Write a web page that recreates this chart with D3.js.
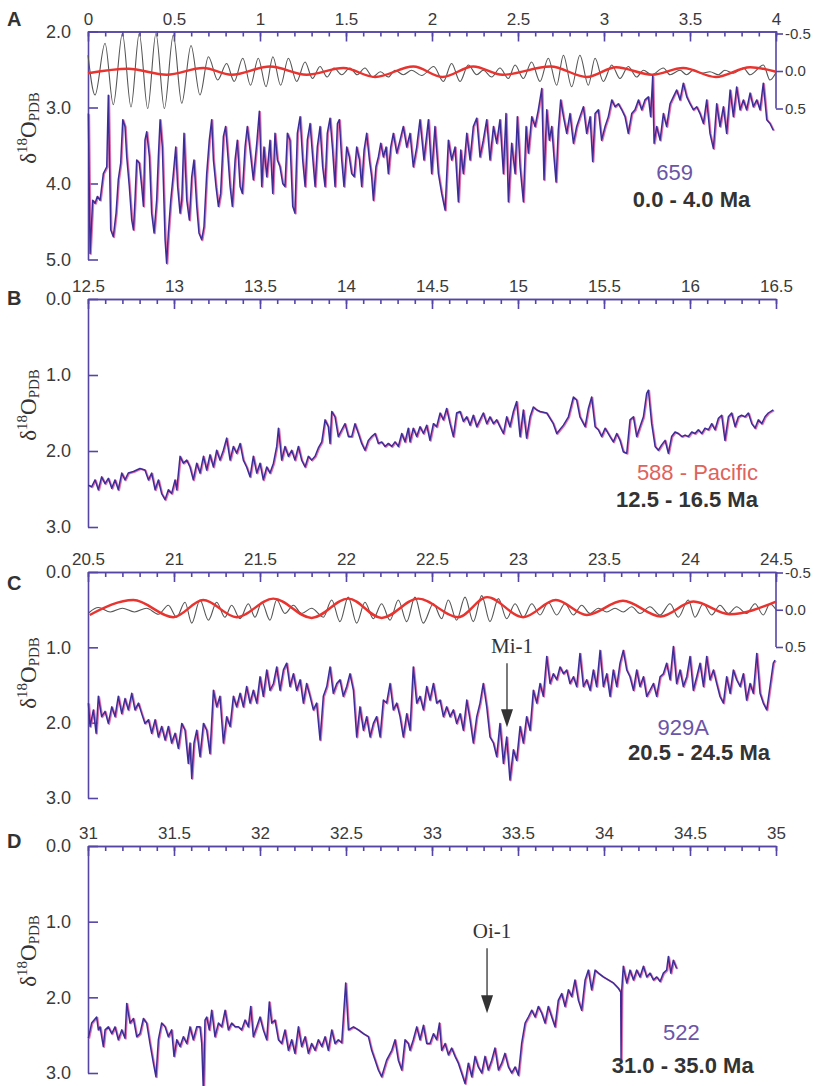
<!DOCTYPE html>
<html>
<head>
<meta charset="utf-8">
<script src="https://cdn.jsdelivr.net/npm/d3@7"></script>
<style>
  body { margin: 0; background: #fff; }
  svg { display: block; }
  .axis path, .axis line { stroke: #5546a6; stroke-width: 1.6; }
  .axis text { fill: #3a3a3a; font-family: "Liberation Sans", Arial, sans-serif; }
</style>
</head>
<body>
<div id="chart"></div>
<script>
// ---- data: [age (Ma), d18O (permil PDB)] ----
const site659 = [
  [0.002,3.08],[0.012,4.92],[0.027,4.22],[0.041,4.26],[0.054,4.17],[0.070,4.22],[0.089,3.87],[0.109,3.78],[0.118,2.84],[0.132,4.61],
  [0.147,4.70],[0.163,4.39],[0.176,3.95],[0.190,3.73],[0.202,3.16],[0.215,3.25],[0.225,3.65],[0.240,4.04],[0.254,4.48],[0.264,4.61],
  [0.273,4.22],[0.283,3.69],[0.298,3.73],[0.312,4.04],[0.322,4.30],[0.331,3.43],[0.341,3.32],[0.357,3.65],[0.370,4.39],[0.384,4.65],
  [0.399,4.22],[0.409,3.65],[0.419,3.16],[0.432,3.52],[0.448,4.74],[0.457,5.05],[0.467,4.65],[0.481,4.22],[0.496,3.87],[0.510,3.52],
  [0.521,4.04],[0.535,4.39],[0.545,4.22],[0.558,3.34],[0.574,4.22],[0.589,4.48],[0.603,3.91],[0.616,3.69],[0.632,4.30],[0.645,4.65],
  [0.661,4.74],[0.674,4.57],[0.690,3.87],[0.705,3.43],[0.719,3.16],[0.729,3.69],[0.744,4.04],[0.758,4.30],[0.771,4.13],[0.787,3.38],
  [0.800,3.25],[0.812,3.60],[0.826,4.04],[0.839,4.30],[0.855,3.69],[0.868,3.43],[0.884,4.04],[0.897,4.13],[0.913,3.52],[0.926,3.25],
  [0.942,3.56],[0.961,3.95],[0.981,3.47],[0.996,3.05],[1.010,4.04],[1.023,3.52],[1.039,3.91],[1.058,3.43],[1.074,4.13],[1.087,3.34],
  [1.101,3.69],[1.116,3.78],[1.132,4.00],[1.145,4.04],[1.159,3.34],[1.174,3.43],[1.190,4.30],[1.203,4.39],[1.217,3.34],[1.233,3.12],
  [1.248,3.69],[1.262,4.04],[1.275,3.43],[1.291,3.21],[1.306,3.65],[1.320,4.04],[1.333,3.52],[1.349,3.25],[1.364,3.78],[1.378,4.04],
  [1.391,3.34],[1.407,3.14],[1.422,3.56],[1.436,4.04],[1.450,3.21],[1.461,3.16],[1.475,3.69],[1.488,4.04],[1.504,3.52],[1.519,3.65],
  [1.533,3.87],[1.547,3.91],[1.562,3.52],[1.578,3.69],[1.591,4.04],[1.605,3.56],[1.620,3.34],[1.636,3.69],[1.649,3.91],[1.659,4.22],
  [1.674,3.78],[1.688,3.65],[1.702,3.47],[1.717,3.65],[1.733,3.52],[1.746,3.87],[1.760,3.52],[1.775,3.34],[1.795,3.60],[1.814,3.43],
  [1.833,3.25],[1.853,3.52],[1.872,3.34],[1.891,3.78],[1.911,3.52],[1.930,3.16],[1.953,3.69],[1.979,3.16],[1.998,3.87],[2.017,3.25],
  [2.037,3.87],[2.056,4.13],[2.076,4.35],[2.095,3.43],[2.114,3.69],[2.134,3.52],[2.153,4.24],[2.167,3.56],[2.182,3.87],[2.202,3.34],
  [2.221,3.69],[2.240,3.25],[2.260,3.14],[2.279,3.65],[2.298,3.43],[2.318,3.16],[2.337,3.69],[2.357,3.25],[2.376,3.47],[2.395,3.16],
  [2.415,3.87],[2.430,3.08],[2.444,4.24],[2.463,3.47],[2.483,3.87],[2.496,3.12],[2.512,3.78],[2.531,4.24],[2.547,3.25],[2.560,3.60],
  [2.580,3.12],[2.599,3.25],[2.618,3.03],[2.638,2.75],[2.651,3.95],[2.667,3.03],[2.682,3.43],[2.696,3.25],[2.709,3.65],[2.721,3.98],
  [2.734,3.30],[2.748,2.90],[2.764,3.12],[2.783,3.34],[2.802,3.08],[2.822,3.47],[2.841,3.25],[2.860,3.12],[2.880,2.99],[2.899,3.34],
  [2.919,3.12],[2.934,3.71],[2.948,3.08],[2.967,3.03],[2.986,3.43],[3.006,3.25],[3.025,3.12],[3.045,2.90],[3.064,2.99],[3.083,2.95],
  [3.103,3.03],[3.122,3.12],[3.141,3.34],[3.161,3.08],[3.180,3.03],[3.200,2.90],[3.219,3.03],[3.238,2.90],[3.258,2.86],[3.271,3.12],
  [3.283,2.59],[3.291,3.47],[3.306,3.25],[3.326,3.43],[3.345,3.08],[3.364,3.25],[3.384,2.95],[3.403,2.86],[3.422,2.77],[3.442,2.90],
  [3.461,2.68],[3.481,2.86],[3.500,2.95],[3.519,3.03],[3.539,2.99],[3.558,3.08],[3.578,3.21],[3.597,2.90],[3.616,3.34],[3.636,3.54],
  [3.655,2.95],[3.674,3.25],[3.694,2.99],[3.713,3.34],[3.733,2.77],[3.752,3.12],[3.771,2.73],[3.791,3.03],[3.810,2.90],[3.829,3.03],
  [3.849,2.81],[3.868,2.99],[3.888,2.90],[3.907,3.03],[3.926,2.68],[3.946,3.16],[3.965,3.21],[3.984,3.30]
];

const site588 = [
  [12.502,2.45],[12.521,2.47],[12.541,2.38],[12.560,2.51],[12.579,2.34],[12.599,2.43],[12.618,2.36],[12.638,2.49],[12.657,2.38],[12.676,2.51],
  [12.696,2.29],[12.715,2.38],[12.734,2.29],[12.764,2.27],[12.802,2.23],[12.831,2.25],[12.851,2.38],[12.870,2.29],[12.890,2.51],[12.909,2.38],
  [12.928,2.56],[12.948,2.64],[12.967,2.51],[12.986,2.56],[13.006,2.38],[13.016,2.51],[13.035,2.07],[13.054,2.16],[13.074,2.12],[13.093,2.21],
  [13.112,2.38],[13.132,2.16],[13.151,2.29],[13.171,2.07],[13.190,2.25],[13.209,2.05],[13.229,2.21],[13.248,1.99],[13.267,2.12],[13.287,1.99],
  [13.306,1.83],[13.326,2.12],[13.345,1.94],[13.364,2.03],[13.384,1.90],[13.403,2.12],[13.422,2.21],[13.442,2.34],[13.461,2.07],[13.481,2.29],
  [13.500,2.16],[13.519,2.38],[13.539,2.21],[13.558,2.29],[13.578,2.16],[13.597,1.94],[13.607,1.70],[13.626,2.12],[13.645,1.94],[13.665,2.07],
  [13.684,1.99],[13.703,2.12],[13.723,1.94],[13.742,2.12],[13.762,2.21],[13.781,2.07],[13.800,2.12],[13.820,2.07],[13.839,1.96],[13.859,1.88],
  [13.878,1.59],[13.897,1.68],[13.907,1.90],[13.917,1.48],[13.936,1.55],[13.955,1.81],[13.975,1.72],[13.994,1.64],[14.014,1.81],[14.033,1.81],
  [14.052,1.64],[14.072,1.77],[14.091,1.90],[14.110,1.99],[14.130,1.86],[14.149,1.81],[14.169,1.77],[14.188,1.90],[14.207,1.88],[14.227,1.94],
  [14.246,1.90],[14.266,1.94],[14.285,1.88],[14.304,1.94],[14.324,1.77],[14.343,1.88],[14.362,1.70],[14.372,1.88],[14.391,1.70],[14.411,1.81],
  [14.430,1.68],[14.450,1.77],[14.469,1.66],[14.488,1.86],[14.508,1.64],[14.527,1.68],[14.547,1.50],[14.566,1.59],[14.585,1.44],[14.605,1.64],
  [14.624,1.81],[14.643,1.50],[14.663,1.48],[14.682,1.61],[14.702,1.55],[14.721,1.66],[14.740,1.53],[14.760,1.68],[14.779,1.59],[14.798,1.50],
  [14.818,1.64],[14.837,1.55],[14.857,1.64],[14.876,1.59],[14.895,1.68],[14.915,1.77],[14.934,1.55],[14.953,1.68],[14.973,1.48],[14.992,1.35],
  [15.012,1.81],[15.031,1.46],[15.050,1.83],[15.070,1.55],[15.089,1.42],[15.109,1.46],[15.128,1.48],[15.167,1.50],[15.205,1.64],[15.225,1.77],
  [15.264,1.66],[15.293,1.55],[15.322,1.29],[15.341,1.33],[15.360,1.55],[15.390,1.68],[15.409,1.44],[15.428,1.29],[15.448,1.68],[15.467,1.72],
  [15.486,1.81],[15.506,1.70],[15.535,1.81],[15.554,1.88],[15.574,1.77],[15.593,1.86],[15.612,2.01],[15.632,2.03],[15.651,1.59],[15.671,1.55],
  [15.690,1.81],[15.709,1.68],[15.729,1.55],[15.748,1.24],[15.758,1.20],[15.777,1.64],[15.797,1.94],[15.816,1.99],[15.835,1.92],[15.855,1.86],
  [15.874,2.03],[15.893,1.81],[15.913,1.75],[15.932,1.77],[15.952,1.81],[15.971,1.79],[15.990,1.81],[16.010,1.75],[16.029,1.77],[16.048,1.72],
  [16.068,1.77],[16.087,1.70],[16.107,1.72],[16.126,1.64],[16.145,1.72],[16.165,1.57],[16.184,1.53],[16.203,1.86],[16.223,1.55],[16.242,1.50],
  [16.262,1.68],[16.281,1.55],[16.300,1.53],[16.320,1.55],[16.339,1.50],[16.359,1.64],[16.378,1.70],[16.397,1.59],[16.417,1.64],[16.436,1.55],
  [16.455,1.50],[16.484,1.46]
];

const site929A = [
  [20.502,1.74],[20.512,2.05],[20.531,1.83],[20.547,2.14],[20.560,1.65],[20.579,1.92],[20.599,1.85],[20.618,2.01],[20.638,1.79],[20.657,1.92],
  [20.676,1.65],[20.696,1.88],[20.715,1.68],[20.734,1.83],[20.754,1.61],[20.773,1.83],[20.793,1.74],[20.812,1.88],[20.831,2.01],[20.851,1.96],
  [20.870,2.14],[20.890,1.96],[20.909,2.19],[20.928,2.05],[20.948,2.23],[20.967,2.05],[20.986,2.27],[21.006,2.14],[21.025,2.34],[21.045,2.01],
  [21.064,2.10],[21.083,2.54],[21.093,2.27],[21.103,2.74],[21.116,2.27],[21.132,2.10],[21.151,2.45],[21.171,2.01],[21.190,2.10],[21.209,2.41],
  [21.229,1.57],[21.248,1.79],[21.267,1.65],[21.287,2.27],[21.306,1.92],[21.326,2.05],[21.345,1.65],[21.364,1.79],[21.384,1.61],[21.403,1.79],
  [21.422,1.52],[21.442,1.74],[21.461,1.57],[21.481,1.74],[21.500,1.39],[21.519,1.65],[21.539,1.30],[21.558,1.57],[21.578,1.48],[21.597,1.26],
  [21.616,1.57],[21.636,1.30],[21.655,1.21],[21.674,1.52],[21.694,1.35],[21.713,1.57],[21.733,1.43],[21.752,1.74],[21.771,1.48],[21.791,1.65],
  [21.810,1.83],[21.829,1.74],[21.849,2.23],[21.868,1.65],[21.888,1.52],[21.907,1.26],[21.926,1.61],[21.946,1.48],[21.965,1.43],[21.984,1.65],
  [22.004,1.52],[22.023,1.35],[22.043,1.57],[22.062,2.19],[22.081,1.79],[22.101,2.10],[22.120,1.92],[22.140,2.19],[22.159,2.01],[22.178,1.92],
  [22.198,2.19],[22.217,1.70],[22.236,1.74],[22.256,1.48],[22.275,1.83],[22.295,1.74],[22.314,1.92],[22.333,2.19],[22.353,1.88],[22.372,2.10],
  [22.391,1.26],[22.411,1.74],[22.430,1.65],[22.450,1.83],[22.469,1.52],[22.488,1.70],[22.508,1.48],[22.527,1.74],[22.547,1.70],[22.566,1.92],
  [22.585,1.79],[22.605,1.92],[22.624,1.83],[22.643,2.01],[22.663,1.88],[22.682,2.10],[22.702,1.70],[22.721,1.96],[22.740,2.27],[22.760,1.92],
  [22.779,1.74],[22.798,1.48],[22.818,1.79],[22.837,2.19],[22.857,2.27],[22.876,2.45],[22.895,2.01],[22.915,2.54],[22.934,2.19],[22.953,2.76],
  [22.973,2.36],[22.992,2.50],[23.012,2.05],[23.031,2.27],[23.050,1.92],[23.070,2.10],[23.089,1.57],[23.109,1.74],[23.128,1.48],[23.147,1.65],
  [23.167,1.12],[23.186,1.48],[23.205,1.35],[23.225,1.43],[23.244,1.26],[23.264,1.35],[23.283,1.30],[23.302,1.48],[23.322,1.39],[23.341,1.52],
  [23.360,1.08],[23.380,1.52],[23.399,1.43],[23.419,1.57],[23.438,1.30],[23.457,1.52],[23.477,1.04],[23.496,1.52],[23.516,1.35],[23.535,1.65],
  [23.554,1.30],[23.574,1.52],[23.593,1.21],[23.612,1.04],[23.632,1.30],[23.651,1.39],[23.671,1.57],[23.690,1.30],[23.709,1.52],[23.729,1.39],
  [23.748,1.65],[23.767,1.57],[23.787,1.48],[23.806,1.65],[23.826,1.39],[23.845,1.35],[23.864,1.21],[23.884,1.43],[23.903,0.99],[23.922,1.48],
  [23.942,1.30],[23.961,1.52],[23.981,1.39],[24.000,1.12],[24.019,1.57],[24.039,1.39],[24.058,1.21],[24.078,1.52],[24.097,1.12],[24.116,1.43],
  [24.136,1.30],[24.155,1.48],[24.174,1.65],[24.194,1.74],[24.213,1.39],[24.233,1.61],[24.252,1.30],[24.271,1.43],[24.291,1.52],[24.310,1.35],
  [24.329,1.70],[24.349,1.48],[24.368,1.61],[24.388,1.08],[24.407,1.61],[24.426,1.74],[24.446,1.83],[24.465,1.52],[24.484,1.21],[24.494,1.17]
];

const site522 = [
  [31.002,2.54],[31.021,2.34],[31.050,2.26],[31.060,2.43],[31.070,2.39],[31.089,2.65],[31.099,2.43],[31.118,2.39],[31.138,2.48],[31.157,2.39],
  [31.176,2.56],[31.196,2.43],[31.215,2.54],[31.225,2.08],[31.244,2.34],[31.264,2.28],[31.283,2.52],[31.302,2.48],[31.322,2.28],[31.341,2.34],
  [31.360,2.61],[31.380,2.87],[31.395,3.05],[31.409,2.56],[31.428,2.34],[31.448,2.39],[31.467,2.52],[31.486,2.43],[31.500,2.78],[31.516,2.56],
  [31.535,2.65],[31.554,2.52],[31.574,2.61],[31.593,2.39],[31.612,2.56],[31.632,2.39],[31.651,2.39],[31.661,2.61],[31.671,3.27],[31.680,2.30],
  [31.690,2.26],[31.705,2.43],[31.719,2.17],[31.738,2.52],[31.758,2.34],[31.777,2.39],[31.797,2.17],[31.816,2.43],[31.835,2.34],[31.855,2.39],
  [31.874,2.39],[31.893,2.43],[31.913,2.30],[31.932,2.39],[31.946,2.12],[31.961,2.52],[31.981,2.39],[32.000,2.26],[32.019,2.43],[32.039,2.56],
  [32.054,2.06],[32.068,2.34],[32.087,2.30],[32.107,2.56],[32.126,2.61],[32.145,2.43],[32.165,2.70],[32.184,2.56],[32.203,2.74],[32.223,2.39],
  [32.242,2.65],[32.262,2.52],[32.281,2.74],[32.300,2.61],[32.320,2.70],[32.339,2.56],[32.359,2.65],[32.378,2.52],[32.397,2.70],[32.417,2.43],
  [32.436,2.61],[32.455,2.56],[32.475,2.60],[32.498,1.81],[32.514,2.43],[32.543,2.39],[32.572,2.43],[32.601,2.48],[32.630,2.52],[32.649,2.70],
  [32.669,2.83],[32.688,2.96],[32.707,3.05],[32.736,2.83],[32.766,2.70],[32.785,2.56],[32.804,2.83],[32.824,2.96],[32.843,2.56],[32.862,2.61],
  [32.872,2.70],[32.891,2.56],[32.911,2.39],[32.930,2.56],[32.950,2.37],[32.969,2.61],[32.988,2.61],[33.008,2.48],[33.027,2.56],[33.043,2.34],
  [33.056,2.70],[33.076,2.61],[33.095,2.76],[33.114,2.67],[33.134,2.78],[33.153,2.87],[33.172,3.00],[33.192,3.14],[33.211,2.87],[33.231,3.05],
  [33.250,2.78],[33.269,2.92],[33.289,3.00],[33.308,2.78],[33.327,2.96],[33.347,2.83],[33.366,2.67],[33.386,2.96],[33.405,2.87],[33.424,2.74],
  [33.444,2.92],[33.463,3.00],[33.483,2.92],[33.502,3.03],[33.521,2.61],[33.541,2.34],[33.560,2.26],[33.580,2.17],[33.599,2.26],[33.618,2.12],
  [33.638,2.21],[33.657,2.34],[33.676,2.12],[33.696,2.26],[33.715,2.39],[33.734,2.04],[33.754,1.95],[33.773,2.12],[33.793,1.90],[33.812,1.99],
  [33.831,1.77],[33.851,2.04],[33.870,2.17],[33.890,1.77],[33.909,1.64],[33.928,1.90],[33.948,1.64],[33.967,1.68],[33.996,1.73],[34.025,1.77],
  [34.054,1.81],[34.083,1.88],[34.097,1.93],[34.099,2.81],[34.103,1.90],[34.112,1.59],[34.132,1.81],[34.151,1.64],[34.171,1.77],[34.190,1.64],
  [34.209,1.73],[34.229,1.59],[34.248,1.73],[34.267,1.68],[34.287,1.77],[34.306,1.73],[34.326,1.79],[34.345,1.68],[34.364,1.64],[34.374,1.46],
  [34.388,1.68],[34.403,1.51],[34.422,1.62]
];

// band-pass filter outputs (right axis), read as successive peaks and troughs
const filt659Short = [
  [0.000,-0.21],[0.041,0.32],[0.099,-0.37],[0.147,0.45],[0.200,-0.50],[0.250,0.48],[0.298,-0.50],[0.347,0.50],[0.395,-0.50],[0.444,0.50],
  [0.496,-0.48],[0.545,0.43],[0.599,-0.34],[0.651,0.32],[0.700,-0.19],[0.754,0.12],[0.806,-0.10],[0.850,0.14],[0.900,-0.17],[0.945,0.19],
  [0.990,-0.17],[1.035,0.21],[1.075,-0.19],[1.120,0.19],[1.165,-0.17],[1.213,0.14],[1.262,-0.12],[1.305,0.10],[1.349,-0.06],[1.390,0.08],
  [1.430,-0.04],[1.475,0.05],[1.523,-0.04],[1.565,0.05],[1.610,-0.04],[1.655,0.08],[1.700,0.01],[1.746,0.08],[1.785,-0.01],[1.833,0.05],
  [1.882,-0.01],[1.940,0.06],[2.010,-0.06],[2.066,0.14],[2.114,-0.10],[2.163,0.14],[2.211,-0.08],[2.260,0.05],[2.298,-0.01],[2.347,0.08],
  [2.395,-0.04],[2.444,0.10],[2.483,-0.08],[2.531,0.10],[2.579,-0.12],[2.628,0.14],[2.676,-0.17],[2.725,0.19],[2.764,-0.21],[2.812,0.21],
  [2.860,-0.21],[2.909,0.19],[2.948,-0.17],[2.996,0.14],[3.045,-0.08],[3.093,0.10],[3.141,-0.06],[3.190,0.08],[3.229,-0.01],[3.277,0.05],
  [3.345,-0.04],[3.384,0.05],[3.442,-0.01],[3.480,0.05],[3.519,-0.01],[3.568,0.03],[3.616,0.01],[3.665,0.05],[3.703,-0.01],[3.752,0.03],
  [3.810,-0.04],[3.849,0.05],[3.927,-0.08],[3.965,0.12],[4.000,0.02]
];
const filt659Long = [
  [0.000,0.03],[0.234,-0.03],[0.457,0.05],[0.670,-0.04],[0.835,0.05],[1.058,-0.06],[1.271,0.05],[1.485,-0.04],[1.669,0.08],[1.892,-0.06],
  [2.060,0.08],[2.240,-0.06],[2.410,0.05],[2.690,-0.06],[2.900,0.08],[3.070,-0.05],[3.280,0.05],[3.460,-0.04],[3.650,0.08],[3.850,-0.05],
  [4.000,0.01]
];
const filt929Short = [
  [20.505,0.04],[20.560,-0.03],[20.630,0.03],[20.700,-0.02],[20.770,0.03],[20.840,-0.02],[20.910,0.06],[20.967,-0.06],[21.015,0.10],[21.064,-0.10],
  [21.103,0.18],[21.151,-0.13],[21.200,0.14],[21.248,-0.10],[21.296,0.10],[21.335,-0.06],[21.384,0.12],[21.432,-0.08],[21.471,0.10],[21.510,-0.10],
  [21.558,0.14],[21.597,-0.13],[21.645,0.05],[21.694,-0.06],[21.742,0.05],[21.800,-0.02],[21.868,0.10],[21.917,-0.13],[21.965,0.16],[22.013,-0.17],
  [22.062,0.18],[22.110,-0.10],[22.159,0.12],[22.207,-0.08],[22.256,0.14],[22.304,-0.13],[22.353,0.16],[22.401,-0.17],[22.449,0.18],[22.508,-0.08],
  [22.556,0.12],[22.595,-0.13],[22.643,0.14],[22.692,-0.17],[22.740,0.16],[22.789,-0.19],[22.837,0.16],[22.886,-0.15],[22.934,0.12],[22.983,-0.08],
  [23.031,0.10],[23.080,-0.08],[23.128,0.07],[23.176,-0.10],[23.225,0.07],[23.273,-0.08],[23.322,0.07],[23.370,-0.06],[23.419,0.05],[23.467,-0.02],
  [23.516,0.03],[23.564,-0.02],[23.612,0.03],[23.661,-0.04],[23.709,0.05],[23.767,-0.04],[23.826,0.07],[23.884,-0.08],[23.932,0.10],[23.990,-0.13],
  [24.029,0.10],[24.077,-0.08],[24.126,0.07],[24.174,-0.06],[24.223,0.05],[24.271,-0.04],[24.329,0.05],[24.378,-0.08],[24.426,0.07],[24.465,-0.08],
  [24.500,0.00]
];
const filt929Long = [
  [20.510,0.07],[20.764,-0.13],[20.996,0.10],[21.170,-0.13],[21.364,0.10],[21.577,-0.15],[21.800,0.11],[22.013,-0.15],[22.207,0.11],[22.420,-0.15],
  [22.653,0.10],[22.820,-0.17],[23.030,0.10],[23.220,-0.13],[23.400,0.07],[23.610,-0.12],[23.830,0.09],[24.020,-0.11],[24.230,0.06],[24.500,-0.11]
];

// tick labels
const ageTicksA = [0, 0.5, 1, 1.5, 2, 2.5, 3, 3.5, 4];
const ageTicksB = [12.5, 13, 13.5, 14, 14.5, 15, 15.5, 16, 16.5];
const ageTicksC = [20.5, 21, 21.5, 22, 22.5, 23, 23.5, 24, 24.5];
const ageTicksD = [31, 31.5, 32, 32.5, 33, 33.5, 34, 34.5, 35];
const d18oTicksA = [2, 3, 4, 5];
const d18oTicksBCD = [0, 1, 2, 3];
const filterTicks = [-0.5, 0, 0.5];

// ---- drawing ----
const width = 814, height = 1086;
const xLeft = 88, xRight = 776;
const purple = "#6a55a8", dark = "#333";

const panels = [
  {letter: "A", letterDy: -6, ages: ageTicksA, yDomain: [2, 5], yRange: [31.5, 259.5], yTicks: d18oTicksA, series: site659,
   filters: [filt659Short, filt659Long], fRange: [33.5, 108.5], titleY: 128,
   site: "659", siteColor: purple, siteAt: [3.41, 3.95], siteAnchor: "middle", span: "0.0 - 4.0 Ma", spanAt: [3.85, 4.31]},
  {letter: "B", letterDy: 6, ages: ageTicksB, yDomain: [0, 3], yRange: [299, 527], yTicks: d18oTicksBCD, series: site588,
   filters: null, titleY: 405,
   site: "588 - Pacific", siteColor: "#e0625c", siteAt: [16.395, 2.38], siteAnchor: "end", span: "12.5 - 16.5 Ma", spanAt: [16.395, 2.74]},
  {letter: "C", letterDy: 18, ages: ageTicksC, yDomain: [0, 3], yRange: [572, 798], yTicks: d18oTicksBCD, series: site929A,
   filters: [filt929Short, filt929Long], fRange: [572.5, 647], titleY: 673,
   site: "929A", siteColor: purple, siteAt: [23.96, 2.16], siteAnchor: "middle", span: "20.5 - 24.5 Ma", spanAt: [24.465, 2.50],
   event: {name: "Mi-1", age: 22.936, textAt: 1.08, from: 1.21, to: 2.06}},
  {letter: "D", letterDy: 2, ages: ageTicksD, yDomain: [0, 3], yRange: [846, 1073], yTicks: d18oTicksBCD, series: site522,
   filters: null, titleY: 951,
   site: "522", siteColor: purple, siteAt: [34.45, 2.56], siteAnchor: "middle", span: "31.0 - 35.0 Ma", spanAt: [34.87, 3.0],
   event: {name: "Oi-1", age: 33.32, textAt: 1.22, from: 1.35, to: 2.21}}
];

const svg = d3.select("#chart").append("svg")
  .attr("width", width)
  .attr("height", height);

svg.append("rect").attr("width", width).attr("height", height).attr("fill", "#fff");

const ageFormat = d3.format(".1~f");

panels.forEach(p => drawPanel(p));

function drawPanel(p) {
  let g = svg.append("g");

  let x = d3.scaleLinear().domain([p.ages[0], p.ages[p.ages.length - 1]]).range([xLeft, xRight]);
  let y = d3.scaleLinear().domain(p.yDomain).range(p.yRange);
  let top = p.yRange[0];

  // minor ticks on the age axis
  g.append("g")
    .attr("class", "axis")
    .attr("transform", `translate(0,${top})`)
    .call(d3.axisTop(x).tickValues(x.ticks(40)).tickSize(-5).tickSizeOuter(0).tickFormat(""));

  // major ticks with labels
  g.append("g")
    .attr("class", "axis")
    .attr("transform", `translate(0,${top})`)
    .call(d3.axisTop(x).tickValues(p.ages).tickSize(-10).tickSizeOuter(0).tickPadding(7).tickFormat(ageFormat))
    .selectAll("text").style("font-size", "17px");

  // d18O axis on the left
  g.append("g")
    .attr("class", "axis")
    .attr("transform", `translate(${xLeft},0)`)
    .call(d3.axisLeft(y).tickValues(p.yTicks).tickSize(-10).tickSizeOuter(0).tickPadding(17).tickFormat(d3.format(".1f")))
    .selectAll("text").style("font-size", "18px");

  // filter curves with their own axis on the right
  if (p.filters) {
    let yf = d3.scaleLinear().domain([-0.5, 0.5]).range(p.fRange);
    g.append("g")
      .attr("class", "axis")
      .attr("transform", `translate(${xRight},0)`)
      .call(d3.axisRight(yf).tickValues(filterTicks).tickSize(7).tickSizeOuter(0).tickPadding(2).tickFormat(d => d.toFixed(1)))
      .call(a => a.select(".domain").attr("d", `M0,${top}V${p.fRange[1]}`))
      .selectAll("text").style("font-size", "15px");

    let fline = d3.line()
      .x(d => x(d[0]))
      .y(d => yf(d[1]))
      .curve(d3.curveMonotoneX);

    g.append("path")
      .datum(p.filters[0])
      .attr("fill", "none")
      .attr("stroke", "#555")
      .attr("stroke-width", 1.1)
      .attr("d", fline);

    g.append("path")
      .datum(p.filters[1])
      .attr("fill", "none")
      .attr("stroke", "#e8332f")
      .attr("stroke-width", 2.4)
      .attr("d", fline);
  }

  // isotope record: pink ghost under a blue line
  let line = d3.line()
    .x(d => x(d[0]))
    .y(d => y(d[1]));

  g.append("path")
    .datum(p.series)
    .attr("fill", "none")
    .attr("stroke", "#de5aa0")
    .attr("stroke-width", 1.8)
    .attr("stroke-linejoin", "round")
    .attr("opacity", 0.85)
    .attr("transform", "translate(0.9,0.6)")
    .attr("d", line);

  g.append("path")
    .datum(p.series)
    .attr("fill", "none")
    .attr("stroke", "#3b2d97")
    .attr("stroke-width", 1.45)
    .attr("stroke-linejoin", "round")
    .attr("d", line);

  // panel letter
  g.append("text")
    .attr("x", 7)
    .attr("y", top + p.letterDy)
    .style("font-family", '"Liberation Sans", Arial, sans-serif')
    .style("font-weight", "bold")
    .style("font-size", "20px")
    .style("fill", dark)
    .text(p.letter);

  // axis title
  let title = g.append("text")
    .attr("transform", `translate(36,${p.titleY}) rotate(-90)`)
    .attr("text-anchor", "middle")
    .style("font-family", '"Liberation Serif", "Times New Roman", serif')
    .style("fill", dark);
  title.append("tspan").style("font-size", "23px").text("δ");
  title.append("tspan").style("font-size", "15px").attr("dy", -9).text("18");
  title.append("tspan").style("font-size", "23px").attr("dy", 9).text("O");
  title.append("tspan").style("font-size", "15px").attr("dy", 3).text("PDB");

  // site and age span labels
  g.append("text")
    .attr("x", x(p.siteAt[0]))
    .attr("y", y(p.siteAt[1]))
    .attr("text-anchor", p.siteAnchor)
    .style("font-family", '"Liberation Sans", Arial, sans-serif')
    .style("font-size", "22px")
    .style("fill", p.siteColor)
    .text(p.site);

  g.append("text")
    .attr("x", x(p.spanAt[0]))
    .attr("y", y(p.spanAt[1]))
    .attr("text-anchor", "end")
    .style("font-family", '"Liberation Sans", Arial, sans-serif')
    .style("font-weight", "bold")
    .style("font-size", "22px")
    .style("fill", dark)
    .text(p.span);

  // isotope event arrow
  if (p.event) {
    let ev = p.event;
    let ex = x(ev.age);
    g.append("text")
      .attr("x", ex + 5)
      .attr("y", y(ev.textAt))
      .attr("text-anchor", "middle")
      .style("font-family", '"Liberation Serif", "Times New Roman", serif')
      .style("font-size", "21px")
      .style("fill", dark)
      .text(ev.name);

    let tip = y(ev.to);
    g.append("line")
      .attr("x1", ex).attr("x2", ex)
      .attr("y1", y(ev.from)).attr("y2", tip - 15)
      .attr("stroke", dark)
      .attr("stroke-width", 1.3);

    g.append("path")
      .attr("d", d3.line()([[ex - 6, tip - 18], [ex + 6, tip - 18], [ex, tip]]) + "Z")
      .attr("fill", dark);
  }
}
</script>
</body>
</html>
